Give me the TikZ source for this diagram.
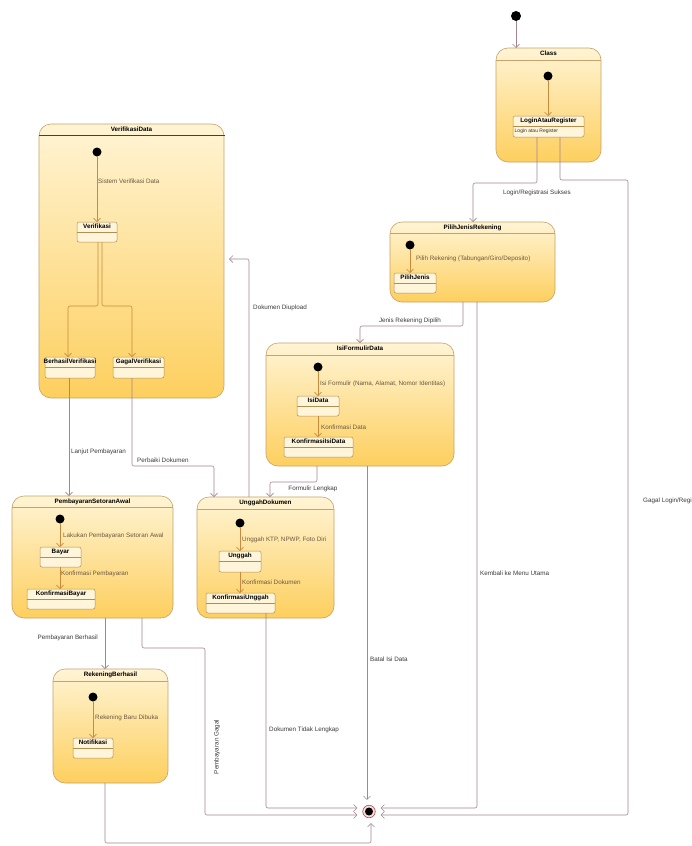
\documentclass[tikz,border=0pt]{standalone}
\usepackage{fontspec}
\setmainfont{Liberation Sans}
\usetikzlibrary{arrows.meta,fit}
\definecolor{conncol}{HTML}{A4868E}
\definecolor{inarr}{HTML}{C98B3B}
\definecolor{obord}{HTML}{C8A268}
\definecolor{otop}{HTML}{FFF4D4}
\definecolor{obot}{HTML}{FDCF5E}
\definecolor{ifill}{HTML}{FFF5DA}
\definecolor{ibord}{HTML}{B48E4E}
\definecolor{lbl}{HTML}{3A3A3A}
\definecolor{ilbl}{HTML}{6A5842}
\definecolor{finring}{HTML}{B04848}
\definecolor{finfill}{HTML}{F6DCDC}
\begin{document}
\begin{tikzpicture}[x=1pt,y=-1pt,
 font=\fontsize{6.3}{7.5}\selectfont,
 outer/.style={draw=obord, line width=0.6pt, rounded corners=12pt, top color=otop, bottom color=obot, inner sep=0pt, outer sep=0pt},
 inbox/.style={draw=ibord, line width=0.5pt, rounded corners=2pt, fill=ifill, inner sep=0pt, outer sep=0pt},
 ttl/.style={font=\fontsize{6.3}{7.5}\selectfont\bfseries, text=black, inner sep=0pt, anchor=north},
 hdr/.style={draw=obord, line width=0.5pt},
 isep/.style={draw=ibord, line width=0.4pt},
 conn/.style={draw=conncol, line width=0.6pt, rounded corners=2pt, -{Straight Barb[length=3.5pt,width=7pt]}},
 inconn/.style={draw=inarr, line width=0.6pt, rounded corners=2pt, -{Straight Barb[length=3.5pt,width=7pt]}},
 initst/.style={circle, fill=black, inner sep=0pt, minimum size=9pt},
 lab/.style={text=lbl, inner sep=0pt},
 ilab/.style={text=ilbl, inner sep=0pt, anchor=west},
]
\useasboundingbox[fill=white] (0,0) rectangle (691,846);

% ---------- outer states ----------
\node[outer, fit={(496,48) (601,162)}] (class) {};
\node[outer, fit={(390,222) (555,302)}] (pilih) {};
\node[outer, fit={(266,343) (454,466)}] (isif) {};
\node[outer, fit={(197,497) (334,618)}] (unggah) {};
\node[outer, fit={(39,124) (224,398)}] (verif) {};
\node[outer, fit={(12,496) (173,618)}] (bayars) {};
\node[outer, fit={(53,669) (168,783)}] (rek) {};

\node[ttl] (class-t) at ([yshift=-3pt]class.north) {Class};
\node[ttl] (pilih-t) at ([yshift=-2.5pt]pilih.north) {PilihJenisRekening};
\node[ttl] (isif-t) at ([yshift=-3pt]isif.north) {IsiFormulirData};
\node[ttl] (unggah-t) at ([yshift=-3pt]unggah.north) {UnggahDokumen};
\node[ttl] (verif-t) at ([yshift=-2.5pt]verif.north) {VerifikasiData};
\node[ttl] (bayars-t) at ([yshift=-2.5pt]bayars.north) {PembayaranSetoranAwal};
\node[ttl] (rek-t) at ([yshift=-3pt]rek.north) {RekeningBerhasil};

\draw[hdr] ([yshift=-12pt]class.north west) -- ([yshift=-12pt]class.north east);
\draw[hdr] ([yshift=-11pt]pilih.north west) -- ([yshift=-11pt]pilih.north east);
\draw[hdr] ([yshift=-12pt]isif.north west) -- ([yshift=-12pt]isif.north east);
\draw[hdr] ([yshift=-12pt]unggah.north west) -- ([yshift=-12pt]unggah.north east);
\draw[draw=black!75, line width=0.5pt] ([yshift=-11pt]verif.north west) -- ([yshift=-11pt,xshift=1pt]verif.north east);
\draw[hdr] ([yshift=-11pt]bayars.north west) -- ([yshift=-11pt]bayars.north east);
\draw[hdr] ([yshift=-12pt]rek.north west) -- ([yshift=-12pt]rek.north east);

% ---------- initial states ----------
\node[initst, minimum size=10pt] (init) at (516,16) {};
\node[initst] (cdot) at (548,76) {};
\node[initst] (pdot) at (410,245) {};
\node[initst] (idot) at (318,367) {};
\node[initst] (udot) at (240,523) {};
\node[initst] (vdot) at (97,152) {};
\node[initst] (bdot) at (60,519) {};
\node[initst] (rdot) at (93,697) {};

% ---------- inner states ----------
\node[inbox, fit={(513,116) (584,137)}] (login) {};
\node[inbox, fit={(394,273) (436,293)}] (pjenis) {};
\node[inbox, fit={(297,396) (339,416)}] (isidata) {};
\node[inbox, fit={(284,437) (353,457)}] (konfisi) {};
\node[inbox, fit={(219,551) (261,572)}] (unggahb) {};
\node[inbox, fit={(206,593) (275,613)}] (konfung) {};
\node[inbox, fit={(77,222) (117,242)}] (verb) {};
\node[inbox, fit={(45,357) (95,378)}] (berhasil) {};
\node[inbox, fit={(113,357) (164,378)}] (gagal) {};
\node[inbox, fit={(40,547) (81,567)}] (bayar) {};
\node[inbox, fit={(27,589) (95,609)}] (konfbayar) {};
\node[inbox, fit={(73,738) (113,758)}] (notif) {};

\foreach \n/\t in {login/LoginAtauRegister, pjenis/PilihJenis, isidata/IsiData, konfisi/KonfirmasiIsiData,
  unggahb/Unggah, konfung/KonfirmasiUnggah, verb/Verifikasi, berhasil/BerhasilVerifikasi,
  gagal/GagalVerifikasi, bayar/Bayar, konfbayar/KonfirmasiBayar, notif/Notifikasi}{
  \node[ttl] (\n-t) at ([yshift=-2pt]\n.north) {\t};
  \draw[isep] ([yshift=-10pt]\n.north west) -- ([yshift=-10pt]\n.north east);
}
\node[anchor=west, inner sep=0pt, font=\fontsize{5}{6}\selectfont, text=black!80] (login-c) at ([xshift=1.5pt,yshift=-15.5pt]login.north west) {Login atau Register};

% ---------- inner transitions ----------
\draw[inconn] (cdot) -- (login.north -| cdot);
\draw[inconn] (pdot) -- (pjenis.north -| pdot);
\draw[inconn] (idot) -- (isidata.north -| idot);
\draw[inconn] (isidata.south -| idot) -- (konfisi.north -| idot);
\draw[inconn] (udot) -- (unggahb.north -| udot);
\draw[inconn] (unggahb.south -| udot) -- (konfung.north -| udot);
\draw[inconn] (vdot) -- (verb.north -| vdot);
\draw[inconn] (verb.south -| 98,0) |- (68,306) -- (berhasil.north -| 68,0);
\draw[inconn] (verb.south -| 102,0) |- (132,306) -- (gagal.north -| 132,0);
\draw[inconn] (bdot) -- (bayar.north -| bdot);
\draw[inconn] (bayar.south -| bdot) -- (konfbayar.north -| bdot);
\draw[inconn] (rdot) -- (notif.north -| rdot);

\node[ilab] (l-sv) at (98,181) {Sistem Verifikasi Data};
\node[ilab] (l-pr) at (416,259) {Pilih Rekening (Tabungan/Giro/Deposito)};
\node[ilab] (l-if) at (320,384) {Isi Formulir (Nama, Alamat, Nomor Identitas)};
\node[ilab] (l-kd) at (321,427) {Konfirmasi Data};
\node[ilab] (l-uk) at (242,540) {Unggah KTP, NPWP, Foto Diri};
\node[ilab] (l-kdok) at (242,582) {Konfirmasi Dokumen};
\node[ilab] (l-lp) at (63,536) {Lakukan Pembayaran Setoran Awal};
\node[ilab] (l-kp) at (61,574) {Konfirmasi Pembayaran};
\node[ilab] (l-rb) at (95,718) {Rekening Baru Dibuka};

% ---------- final state ----------
\node[circle, draw=finring, fill=finfill, line width=0.6pt, minimum size=12.5pt, inner sep=0pt] (fin) at (369,811.5) {};
\node[circle, fill=black, minimum size=8pt, inner sep=0pt] (fin-in) at (fin) {};

% ---------- outer transitions ----------
\draw[conn] (init) -- (class.north -| init);
\draw[conn] (login.south -| 537,0) |- (473,183) -- (pilih.north -| 473,0);
\draw[conn, shorten >=5pt] (login.south -| 560,0) |- (628,180) |- (fin.east |- 0,815);
\draw[conn] (pilih.south -| 463,0) |- (360,326) -- (isif.north -| 360,0);
\draw[conn, shorten >=5pt] (pilih.south -| 477,0) |- (fin.east |- 0,808);
\draw[conn] (isif.south -| 317,0) |- (270,482) -- (unggah.north -| 270,0);
\draw[conn, shorten >=5pt] (isif.south -| 367,0) -- (fin.north -| 367,0);
\draw[conn, shorten >=5pt] (unggah.north -| 249,0) |- (verif.east |- 0,259);
\draw[conn, shorten >=5pt] (konfung.south -| 266,0) |- (fin.west |- 0,808);
\draw[conn] (berhasil.south -| 69,0) -- (bayars.north -| 69,0);
\draw[conn] (gagal.south -| 132,0) |- (214,466) -- (unggah.north -| 214,0);
\draw[conn] (bayars.south -| 105,0) -- (rek.north -| 105,0);
\draw[conn, shorten >=5pt] (bayars.south -| 142,0) |- (205,648) |- (fin.west |- 0,815);
\draw[conn, shorten >=5pt] (rek.south -| 105,0) |- (371,843) -- (fin.south -| 371,0);

\node[lab] (l-lrs) at (537,193) {Login/Registrasi Sukses};
\node[lab, anchor=west] (l-glr) at (643,501) {Gagal Login/Registrasi};
\node[lab] (l-jrd) at (410,321) {Jenis Rekening Dipilih};
\node[lab, anchor=west] (l-kmu) at (480,573) {Kembali ke Menu Utama};
\node[lab] (l-fl) at (313,489) {Formulir Lengkap};
\node[lab, anchor=west] (l-bid) at (370,659) {Batal Isi Data};
\node[lab, anchor=west] (l-dd) at (253,308) {Dokumen Diupload};
\node[lab, anchor=west] (l-dtl) at (269,730) {Dokumen Tidak Lengkap};
\node[lab, anchor=west] (l-ljp) at (71,452) {Lanjut Pembayaran};
\node[lab, anchor=west] (l-pd) at (137,460) {Perbaiki Dokumen};
\node[lab, anchor=east] (l-pb) at (98,638) {Pembayaran Berhasil};
\node[lab, rotate=90] (l-pg) at (217,747) {Pembayaran Gagal};
\end{tikzpicture}
\end{document}
